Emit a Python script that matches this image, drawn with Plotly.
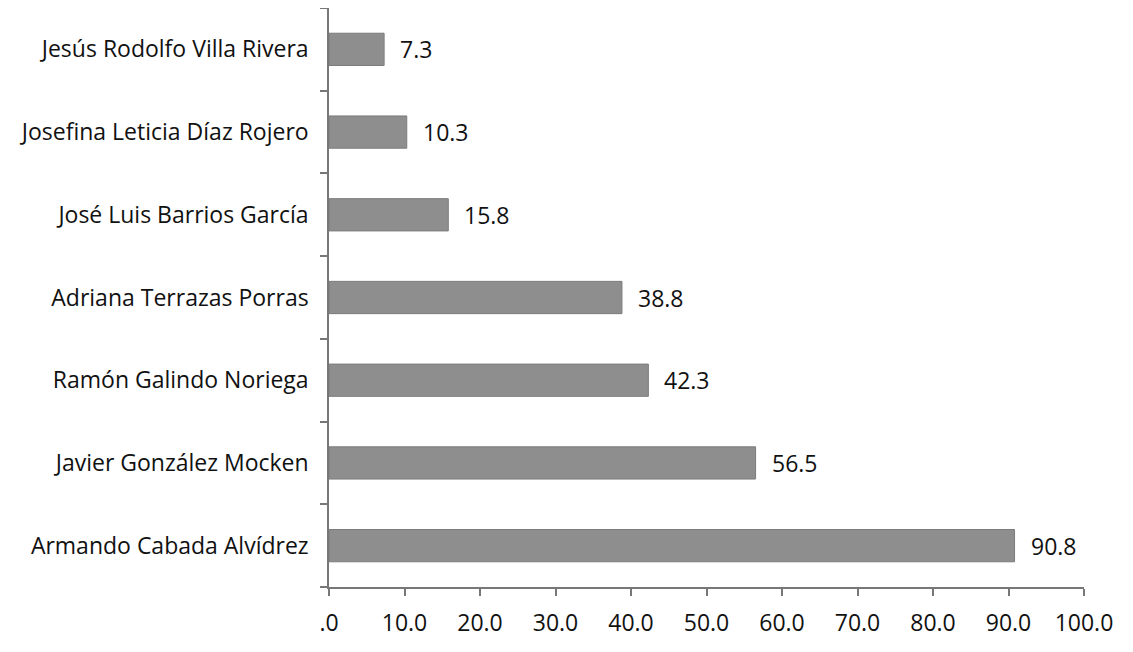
import plotly.graph_objects as go

categories = [
    "Armando Cabada Alvídrez",
    "Javier González Mocken",
    "Ramón Galindo Noriega",
    "Adriana Terrazas Porras",
    "José Luis Barrios García",
    "Josefina Leticia Díaz Rojero",
    "Jesús Rodolfo Villa Rivera",
]
values = [90.8, 56.5, 42.3, 38.8, 15.8, 10.3, 7.3]
tick_vals = [0, 10, 20, 30, 40, 50, 60, 70, 80, 90, 100]
tick_text = [".0", "10.0", "20.0", "30.0", "40.0", "50.0", "60.0", "70.0", "80.0", "90.0", "100.0"]

FONT = "'Open Sans', Lato, sans-serif"
FS = 23

fig = go.Figure()
fig.add_trace(go.Bar(
    x=values, y=categories, orientation="h",
    width=0.39,
    marker=dict(color="#8e8e8e", line=dict(color="#7c7c7c", width=1)),
    hoverinfo="x+y",
))

for c, v in zip(categories, values):
    fig.add_annotation(x=v, y=c, text=f"{v:.1f}", showarrow=False,
                       xanchor="left", xshift=14, font=dict(size=FS, color="#111", family=FONT))

fig.update_layout(
    width=1125, height=644,
    margin=dict(l=321, r=49, t=0, b=65, autoexpand=False),
    paper_bgcolor="white", plot_bgcolor="white",
    showlegend=False,
    font=dict(family=FONT, size=FS, color="#111"),
)
fig.update_xaxes(range=[0, 100], tickvals=tick_vals, ticktext=tick_text,
                 showgrid=False, zeroline=False, showline=True, linecolor="#777", linewidth=1.5,
                 ticks="outside", ticklen=7, tickcolor="#777", tickwidth=1.5, ticklabelstandoff=8,
                 tickfont=dict(size=FS, family=FONT, color="#111"), automargin=False)
fig.update_yaxes(categoryorder="array", categoryarray=categories,
                 showgrid=False, showline=True, linecolor="#777", linewidth=1.5,
                 ticks="outside", ticklen=7, tickcolor="#777", tickwidth=1.5, tickson="boundaries",
                 ticklabelstandoff=14,
                 tickfont=dict(size=FS, family=FONT, color="#111"), automargin=False)

fig.write_html("out.html")
